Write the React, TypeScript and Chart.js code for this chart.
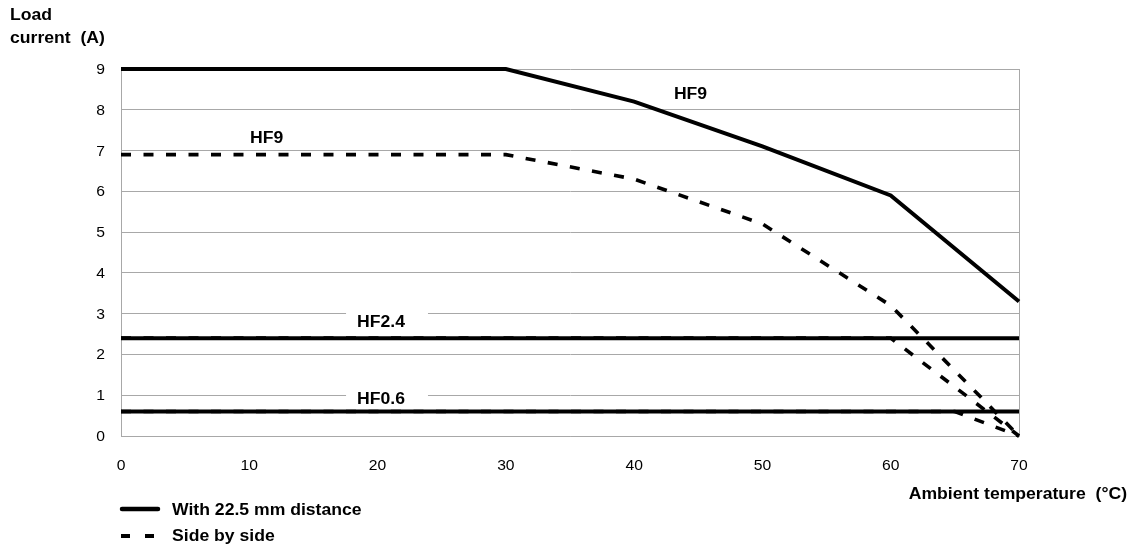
import React, { useEffect, useRef } from "react";
import { Chart, registerables } from "chart.js";

Chart.register(...registerables);

// ---- data ----
const xTickLabels = ["0", "10", "20", "30", "40", "50", "60", "70"];
const yTickLabels = ["0", "1", "2", "3", "4", "5", "6", "7", "8", "9"];

const hf9DistX = [0, 30, 40, 50, 60, 70];
const hf9DistY = [9, 9, 8.2, 7.1, 5.9, 3.3];
const hf9SideX = [0, 30, 40, 50, 60, 70];
const hf9SideY = [6.9, 6.9, 6.3, 5.2, 3.2, 0];

const hf24DistX = [0, 70];
const hf24DistY = [2.4, 2.4];
const hf24SideX = [0, 60, 70];
const hf24SideY = [2.4, 2.4, 0];

const hf06DistX = [0, 70];
const hf06DistY = [0.6, 0.6];
const hf06SideX = [0, 65, 70];
const hf06SideY = [0.6, 0.6, 0];

const seriesLabels = ["With 22.5 mm distance", "Side by side"];
const curveNames = ["HF9", "HF9", "HF2.4", "HF0.6"];
const xTitle = "Ambient temperature  (°C)";
const yTitle = ["Load", "current  (A)"];

// ---- style ----
const FONT = '"Liberation Sans", Arial, Helvetica, sans-serif';
const GRID = "#a8a8a8";
const SXB = 1.1;
const SXR = 1.12;
const DASH = [10, 12.5];

const pts = (xs: number[], ys: number[]) => xs.map((x, i) => ({ x, y: ys[i] }));

// annotation positions in data coordinates (x of text left, y of baseline)
const annotations = [
  { text: curveNames[0], x: 43.1, y: 8.26, box: false },
  { text: curveNames[1], x: 10.05, y: 7.18, box: false },
  { text: curveNames[2], x: 18.4, y: 2.67, box: true },
  { text: curveNames[3], x: 18.4, y: 0.785, box: true },
];

function drawText(
  ctx: CanvasRenderingContext2D,
  text: string,
  x: number,
  y: number,
  align: "left" | "right" | "center",
  font: string,
  sx: number
) {
  ctx.save();
  ctx.font = font;
  ctx.textBaseline = "alphabetic";
  ctx.textAlign = "left";
  const w = ctx.measureText(text).width * sx;
  let left = x;
  if (align === "right") left = x - w;
  else if (align === "center") left = x - w / 2;
  ctx.translate(left, y);
  ctx.scale(sx, 1);
  ctx.fillStyle = "#000";
  ctx.fillText(text, 0, 0);
  ctx.restore();
}

const textPlugin = {
  id: "customTexts",
  beforeDatasetsDraw(chart: any) {
    const ctx: CanvasRenderingContext2D = chart.ctx;
    const xs = chart.scales.x;
    const ys = chart.scales.y;
    const bold = `bold 16px ${FONT}`;
    for (const a of annotations) {
      const px = xs.getPixelForValue(a.x);
      const py = ys.getPixelForValue(a.y);
      if (a.box) {
        ctx.save();
        ctx.font = bold;
        const w = ctx.measureText(a.text).width * SXB;
        ctx.fillStyle = "#fff";
        ctx.fillRect(px - 11, py - 19, w + 34, 22);
        ctx.restore();
      }
      drawText(ctx, a.text, px, py, "left", bold, SXB);
    }
  },
  afterDraw(chart: any) {
    const ctx: CanvasRenderingContext2D = chart.ctx;
    const xs = chart.scales.x;
    const ys = chart.scales.y;
    const reg = `14px ${FONT}`;
    const bold = `bold 16px ${FONT}`;
    const area = chart.chartArea;

    xs.ticks.forEach((t: any, i: number) => {
      const px = xs.getPixelForValue(t.value);
      drawText(ctx, String(t.label ?? xTickLabels[i]), px, 470, "center", reg, SXR);
    });
    ys.ticks.forEach((t: any, i: number) => {
      const py = ys.getPixelForValue(t.value);
      drawText(ctx, String(t.label ?? yTickLabels[i]), area.left - 16, py + 5, "right", reg, SXR);
    });

    // axis titles
    drawText(ctx, yTitle[0], 10, 20, "left", bold, SXB);
    drawText(ctx, yTitle[1], 10, 43, "left", bold, SXB);
    drawText(ctx, xTitle, 1127, 499, "right", bold, SXB);

    // legend
    ctx.save();
    ctx.strokeStyle = "#000";
    ctx.lineWidth = 4.5;
    ctx.lineCap = "round";
    ctx.beginPath();
    ctx.moveTo(122, 509);
    ctx.lineTo(158, 509);
    ctx.stroke();
    ctx.lineCap = "butt";
    ctx.lineWidth = 3.8;
    ctx.setLineDash([9, 15]);
    ctx.beginPath();
    ctx.moveTo(121, 536);
    ctx.lineTo(154, 536);
    ctx.stroke();
    ctx.restore();
    drawText(ctx, seriesLabels[0], 172, 514.5, "left", bold, SXB);
    drawText(ctx, seriesLabels[1], 172, 541, "left", bold, SXB);
  },
};

export default function App() {
  const ref = useRef<HTMLCanvasElement | null>(null);

  useEffect(() => {
    if (!ref.current) return;
    const solid = (data: any) => ({
      data,
      borderColor: "#000",
      borderWidth: 4,
      pointRadius: 0,
      borderCapStyle: "butt" as const,
      borderJoinStyle: "miter" as const,
      tension: 0,
      clip: false as any,
      fill: false,
      order: 0,
    });
    const dashed = (data: any) => ({
      ...solid(data),
      borderWidth: 3.6,
      borderDash: DASH,
      order: 1,
    });
    const chart = new Chart(ref.current, {
      type: "line",
      data: {
        datasets: [
          { label: seriesLabels[0] + " HF9", ...solid(pts(hf9DistX, hf9DistY)) },
          { label: seriesLabels[1] + " HF9", ...dashed(pts(hf9SideX, hf9SideY)) },
          { label: seriesLabels[0] + " HF2.4", ...solid(pts(hf24DistX, hf24DistY)) },
          { label: seriesLabels[1] + " HF2.4", ...dashed(pts(hf24SideX, hf24SideY)) },
          { label: seriesLabels[0] + " HF0.6", ...solid(pts(hf06DistX, hf06DistY)) },
          { label: seriesLabels[1] + " HF0.6", ...dashed(pts(hf06SideX, hf06SideY)) },
        ],
      },
      options: {
        responsive: false,
        animation: false,
        devicePixelRatio: 1,
        layout: { padding: { left: 0, right: 111, top: 69, bottom: 0 } },
        plugins: {
          legend: { display: false },
          tooltip: { enabled: false },
        },
        scales: {
          x: {
            type: "linear",
            min: 0,
            max: 70,
            ticks: {
              stepSize: 10,
              display: false,
              callback: (v: any) => xTickLabels[Math.round(Number(v) / 10)] ?? String(v),
            },
            grid: {
              drawTicks: false,
              color: (c: any) => (c.tick && c.tick.value === 70 ? GRID : "rgba(0,0,0,0)"),
              lineWidth: 1,
            },
            border: { display: true, color: GRID, width: 1 },
            afterFit: (s: any) => {
              s.height = 113;
            },
          },
          y: {
            type: "linear",
            min: 0,
            max: 9,
            ticks: {
              stepSize: 1,
              display: false,
              callback: (v: any) => yTickLabels[Math.round(Number(v))] ?? String(v),
            },
            grid: { drawTicks: false, color: GRID, lineWidth: 1 },
            border: { display: true, color: GRID, width: 1 },
            afterFit: (s: any) => {
              s.width = 121;
            },
          },
        },
      },
      plugins: [textPlugin],
    });
    return () => chart.destroy();
  }, []);

  return (
    <div style={{ position: "absolute", left: 0, top: 0, width: 1130, height: 549, background: "#fff" }}>
      <canvas ref={ref} width={1130} height={549} style={{ display: "block" }} />
    </div>
  );
}
